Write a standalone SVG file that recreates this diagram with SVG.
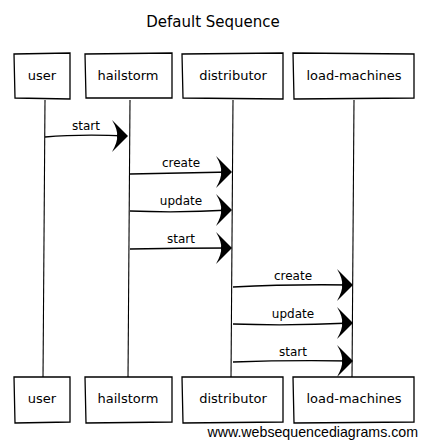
<svg xmlns="http://www.w3.org/2000/svg" width="427" height="446" viewBox="0 0 427 446">
<style>
.box{fill:#fff;stroke:#000;stroke-width:1.3}
.life{fill:none;stroke:#000;stroke-width:1.1}
.msg{fill:none;stroke:#000;stroke-width:1.3}
.t{font-family:"DejaVu Sans","Liberation Sans",sans-serif;font-size:13px;fill:#000;text-anchor:middle}
.ml{font-family:"DejaVu Sans","Liberation Sans",sans-serif;font-size:12px;fill:#000;text-anchor:middle}
</style>
<defs>
<path id="ah" d="M-16,-16 L0,0 L-16,16 Q-10,5 -11,0 Q-10,-6 -16,-16 Z" fill="#000"/>
</defs>
<rect width="427" height="446" fill="#fff"/>
<text x="213" y="27" font-family="DejaVu Sans, sans-serif" font-size="15" text-anchor="middle">Default Sequence</text>
<g id="lifelines">
<path class="life" d="M45,100 Q44,240 43,378"/>
<path class="life" d="M130,100 Q129,240 128,378"/>
<path class="life" d="M233,100 Q232,240 231,378"/>
<path class="life" d="M354,100 Q353,240 352,378"/>
</g>
<g id="connectors">
<path class="msg" d="M45,137 Q80,134 127,136"/><use href="#ah" x="128" y="136"/>
<text class="ml" x="86" y="130">start</text>
<path class="msg" d="M130,174 Q180,173 231,172"/><use href="#ah" x="232" y="172"/>
<text class="ml" x="181" y="167">create</text>
<path class="msg" d="M130,211 Q180,213 231,210"/><use href="#ah" x="232" y="210"/>
<text class="ml" x="181" y="205">update</text>
<path class="msg" d="M130,249 Q180,248 231,248"/><use href="#ah" x="232" y="248"/>
<text class="ml" x="181" y="243">start</text>
<path class="msg" d="M233,287 Q290,284 352,285"/><use href="#ah" x="353" y="285"/>
<text class="ml" x="293" y="280">create</text>
<path class="msg" d="M233,324 Q290,326 352,323"/><use href="#ah" x="353" y="323"/>
<text class="ml" x="293" y="318">update</text>
<path class="msg" d="M233,362 Q290,360 352,361"/><use href="#ah" x="353" y="361"/>
<text class="ml" x="293" y="356">start</text>
</g>
<g id="user"><path class="box" d="M14,54 L70,53 L70,99 L15,98 Z"/><text class="t" x="42" y="80">user</text></g>
<g id="hailstorm"><path class="box" d="M85,54 L172,53 L172,98 L86,98 Z"/><text class="t" x="128" y="80">hailstorm</text></g>
<g id="distributor"><path class="box" d="M182,54 L283,53 L283,99 L183,98 Z"/><text class="t" x="233" y="80">distributor</text></g>
<g id="load-machines"><path class="box" d="M293,53 L414,54 L414,98 L294,99 Z"/><text class="t" x="354" y="80">load-machines</text></g>
<g id="user-bottom"><path class="box" d="M14,377 L70,377 L70,422 L15,423 Z"/><text class="t" x="42" y="403">user</text></g>
<g id="hailstorm-bottom"><path class="box" d="M85,377 L172,377 L172,422 L86,423 Z"/><text class="t" x="128" y="403">hailstorm</text></g>
<g id="distributor-bottom"><path class="box" d="M182,377 L283,377 L283,422 L183,423 Z"/><text class="t" x="233" y="403">distributor</text></g>
<g id="load-machines-bottom"><path class="box" d="M293,377 L414,377 L414,422 L294,423 Z"/><text class="t" x="354" y="403">load-machines</text></g>
<text x="418" y="437" font-family="Liberation Sans, Arial, sans-serif" font-size="14.2" text-anchor="end" fill="#000">www.websequencediagrams.com</text>
</svg>
